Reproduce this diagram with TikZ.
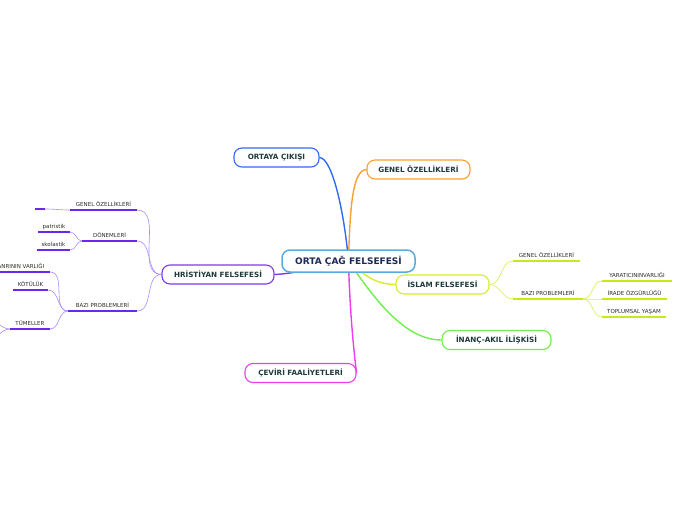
\documentclass[tikz,border=0pt]{standalone}
\usepackage{fontspec}
\setmainfont{DejaVu Sans}
\usetikzlibrary{backgrounds}
\definecolor{cblue}{HTML}{2F6BF5}
\definecolor{corange}{HTML}{F8A030}
\definecolor{cpurple}{HTML}{7B3AF0}
\definecolor{cpurpleline}{HTML}{A88CFF}
\definecolor{cpurpleul}{HTML}{6A28EE}
\definecolor{cyellow}{HTML}{D4F024}
\definecolor{cyellowul}{HTML}{C8EA14}
\definecolor{cyellowline}{HTML}{DCF060}
\definecolor{cgreen}{HTML}{6EF04A}
\definecolor{cmagenta}{HTML}{F03CF0}
\definecolor{ccenter}{HTML}{5AAAE2}
\definecolor{maintext}{HTML}{1E3A3A}
\definecolor{centertext}{HTML}{1C2A55}
\definecolor{leaftext}{HTML}{2A2A2A}
\tikzset{
  mnode/.style={draw, rounded corners=8pt, fill=white, line width=1.1pt,
    font=\bfseries\fontsize{7.2}{8}\selectfont, text=maintext,
    inner xsep=4pt, minimum height=19pt},
  leaf/.style={font=\fontsize{5.5}{6}\selectfont, text=leaftext, anchor=south,
    inner xsep=5pt, inner ysep=3.5pt, text height=4.3pt, text depth=0pt, outer sep=0pt},
  mconn/.style={line width=1.4pt},
  pline/.style={cpurpleline, line width=0.6pt},
  pul/.style={cpurpleul, line width=1.5pt},
  yline/.style={cyellowline, line width=0.7pt},
  yul/.style={cyellowul, line width=1.6pt}
}
\begin{document}
\begin{tikzpicture}[x=1pt,y=-1pt]
\useasboundingbox (0,0) rectangle (696,520);
\clip (0,0) rectangle (696,520);
% main nodes
\node[mnode, draw=ccenter, line width=1.5pt, minimum width=133pt, minimum height=22pt,
  font=\bfseries\fontsize{9}{10}\selectfont, text=centertext] (c) at (348.5,261) {ORTA ÇAĞ FELSEFESİ};
\node[mnode, draw=cblue, minimum width=85pt] (o) at (276.5,157.5) {ORTAYA ÇIKIŞI};
\node[mnode, draw=corange, minimum width=103pt] (g) at (418.5,169.5) {GENEL ÖZELLİKLERİ};
\node[mnode, draw=cpurple, minimum width=112pt] (h) at (218,274.5) {HRİSTİYAN FELSEFESİ};
\node[mnode, draw=cyellow, minimum width=93pt] (i) at (442.5,284.5) {İSLAM FELSEFESİ};
\node[mnode, draw=cgreen, minimum width=109pt] (n) at (496.5,340) {İNANÇ-AKIL İLİŞKİSİ};
\node[mnode, draw=cmagenta, minimum width=111pt] (v) at (300.5,373) {ÇEVİRİ FAALİYETLERİ};
% main connectors
\begin{scope}[on background layer]
\draw[mconn, cblue] (c.center) .. controls (344,210) and (332,158) .. (o.east);
\draw[mconn, corange] (c.center) .. controls (350,210) and (352,170) .. (g.west);
\draw[mconn, cpurple] (c.center) .. controls (320,268) and (290,274) .. (h.east);
\draw[mconn, cyellow] (c.center) .. controls (365,276) and (375,284) .. (i.west);
\draw[mconn, cgreen] (c.center) .. controls (375,300) and (405,340) .. (n.west);
\draw[mconn, cmagenta] (c.center) .. controls (350,320) and (355,360) .. (v.east);
\end{scope}
% Hristiyan leaves
\node[leaf, minimum width=67pt] (hg) at (103.5,210) {GENEL ÖZELLİKLERİ};
\node[leaf, minimum width=10pt] (he) at (40,209) {};
\node[leaf, minimum width=55pt] (hd) at (109.5,241) {DÖNEMLERİ};
\node[leaf, minimum width=32pt] (hp) at (54,232) {patristik};
\node[leaf, minimum width=33pt] (hs) at (53.5,250) {skolastik};
\node[leaf, minimum width=69pt] (hb) at (102.5,311) {BAZI PROBLEMLERİ};
\node[leaf, minimum width=61pt] (ht) at (19.5,272) {TANRININ VARLIĞI};
\node[leaf, minimum width=35pt] (hk) at (30.5,290) {KÖTÜLÜK};
\node[leaf, minimum width=40pt] (hm) at (30,329) {TÜMELLER};
\coordinate (hm1) at (-14,318);
\coordinate (hm2) at (-14,342);
% Islam leaves
\node[leaf, minimum width=67pt] (ig) at (546.5,261) {GENEL ÖZELLİKLERİ};
\node[leaf, minimum width=70pt] (ib) at (548,299) {BAZI PROBLEMLERİ};
\node[leaf, minimum width=70pt] (iy) at (637,281) {YARATICININVARLIĞI};
\node[leaf, minimum width=65pt] (ii) at (634.5,299) {İRADE ÖZGÜRLÜĞÜ};
\node[leaf, minimum width=64pt] (it) at (634,317) {TOPLUMSAL YAŞAM};
% purple connectors
\draw[pline] (h.west) to[out=180,in=0] (hg.south east);
\draw[pline] (h.west) to[out=180,in=0] (hd.south east);
\draw[pline] (h.west) to[out=180,in=0] (hb.south east);
\draw[pline] (hg.south west) to[out=180,in=0] (he.south east);
\draw[pline] (hd.south west) to[out=180,in=0] (hp.south east);
\draw[pline] (hd.south west) to[out=180,in=0] (hs.south east);
\draw[pline] (hb.south west) to[out=180,in=0] (ht.south east);
\draw[pline] (hb.south west) to[out=180,in=0] (hk.south east);
\draw[pline] (hb.south west) to[out=180,in=0] (hm.south east);
\draw[pline] (hm.south west) to[out=180,in=0] (hm1);
\draw[pline] (hm.south west) to[out=180,in=0] (hm2);
% yellow connectors
\draw[yline] (i.east) to[out=0,in=180] (ig.south west);
\draw[yline] (i.east) to[out=0,in=180] (ib.south west);
\draw[yline] (ib.south east) to[out=0,in=180] (iy.south west);
\draw[yline] (ib.south east) to[out=0,in=180] (ii.south west);
\draw[yline] (ib.south east) to[out=0,in=180] (it.south west);
% underlines
\foreach \m in {hg,he,hd,hp,hs,hb,ht,hk,hm}
  \draw[pul] (\m.south west) -- (\m.south east);
\foreach \m in {ig,ib,iy,ii,it}
  \draw[yul] (\m.south west) -- (\m.south east);
\end{tikzpicture}
\end{document}
